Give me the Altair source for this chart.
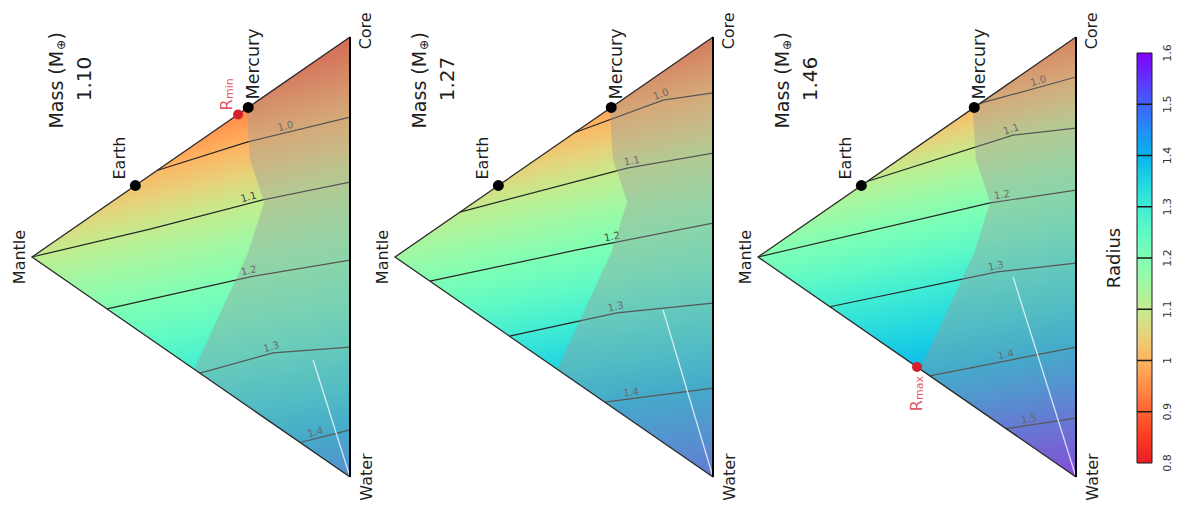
import math
import altair as alt
import numpy as np
import pandas as pd

# ------------------------------------------------------------------ data
MASSES = ["1.10", "1.27", "1.46"]

# compositions as (mantle fraction, water fraction); core = 1 - mantle - water
EARTH = (0.675, 0.0)
MERCURY = (0.32, 0.0)
RMIN = (0.352, 0.0)     # first panel
RMAX = (0.50, 0.50)     # third panel

# radius contours: level and (mantle, water) points along each line
P1_LEVELS = [1.0, 1.1, 1.2, 1.3, 1.4]
P1_LINES = [
    [(0.607, 0.0), (0.324, 0.077), (0.0, 0.182)],
    [(1.0, 0.0), (0.629, 0.122), (0.274, 0.233), (0.0, 0.330)],
    [(0.764, 0.236), (0.314, 0.388), (0.0, 0.507)],
    [(0.472, 0.528), (0.242, 0.597), (0.0, 0.705)],
    [(0.157, 0.843), (0.0, 0.893)],
]
P1_LABEL_MANTLE = [0.198, 0.314, 0.314, 0.242, 0.104]

P2_LEVELS = [1.0, 1.1, 1.2, 1.3, 1.4]
P2_LINES = [
    [(0.434, 0.0), (0.157, 0.065), (0.0, 0.127)],
    [(0.796, 0.0), (0.270, 0.163), (0.0, 0.264)],
    [(0.890, 0.110), (0.428, 0.270), (0.0, 0.423)],
    [(0.640, 0.360), (0.302, 0.476), (0.0, 0.605)],
    [(0.340, 0.660), (0.0, 0.798)],
]
P2_LABEL_MANTLE = [0.157, 0.252, 0.314, 0.302, 0.255]

P3_LEVELS = [1.0, 1.1, 1.2, 1.3, 1.4, 1.5]
P3_LINES = [
    [(0.302, 0.0), (0.0, 0.091)],
    [(0.657, 0.0), (0.198, 0.124), (0.0, 0.207)],
    [(1.0, 0.0), (0.270, 0.242), (0.0, 0.348)],
    [(0.774, 0.226), (0.248, 0.410), (0.0, 0.514)],
    [(0.460, 0.540), (0.0, 0.705)],
    [(0.220, 0.780), (0.0, 0.866)],
]
P3_LABEL_MANTLE = [0.113, 0.198, 0.230, 0.248, 0.217, 0.145]

# radius at the core, mantle and water corners
CORNER_RADIUS = [[0.87, 1.10, 1.46], [0.90, 1.15, 1.50], [0.92, 1.20, 1.58]]

# edge of the shaded region (same compositions in every panel)
SHADE_EDGE = [(0.325, 0.0), (0.315, 0.12), (0.27, 0.24), (0.32, 0.33), (0.49, 0.51)]

# light line that runs into the water corner
WHITE_START = [(0.116, 0.676), (0.157, 0.542), (0.198, 0.446)]

CBAR_VALUES = [0.8, 0.9, 1.0, 1.1, 1.2, 1.3, 1.4, 1.5, 1.6]
CBAR_LABELS = ["0.8", "0.9", "1", "1.1", "1.2", "1.3", "1.4", "1.5", "1.6"]

CMAP_R = [0.80, 0.85, 0.90, 0.95, 1.00, 1.05, 1.10, 1.15, 1.20,
          1.25, 1.30, 1.35, 1.40, 1.45, 1.50, 1.55, 1.60]
CMAP_HEX = ["#e81e25", "#fc3a20", "#ff6232", "#ff8e4a", "#ffb462", "#e6d27a",
            "#c3ec8e", "#a0f8a4", "#80ffb4", "#60fac5", "#40ecd4", "#20d4e1",
            "#08b4ec", "#228ef4", "#4062fa", "#6032fe", "#8000ff"]

PANELS = [
    (P1_LEVELS, P1_LINES, P1_LABEL_MANTLE),
    (P2_LEVELS, P2_LINES, P2_LABEL_MANTLE),
    (P3_LEVELS, P3_LINES, P3_LABEL_MANTLE),
]

# ------------------------------------------------------------------ layout
W, H = 1166, 497
PXX, PXY = 318.0, 440.0
GAP = 363.0 / PXX
X_DOM = [-24 / PXX, -24 / PXX + W / PXX]
Y_DOM = [-29 / PXY, -29 / PXY + H / PXY]
XS = alt.Scale(domain=X_DOM, nice=False, zero=False)
YS = alt.Scale(domain=Y_DOM, nice=False, zero=False, reverse=True)
FONT = "DejaVu Sans"
INK = "#1e1e1e"


def xq(f):
    return alt.X(f, type="quantitative", scale=XS, axis=None)


def yq(f):
    return alt.Y(f, type="quantitative", scale=YS, axis=None)


def tern(m, w):
    """(mantle, water) -> plane position: x from mantle corner to core-water edge."""
    return 1.0 - m, w + 0.5 * m


def hex2rgb(h):
    return [int(h[i:i + 2], 16) for i in (1, 3, 5)]


RGB = np.array([hex2rgb(h) for h in CMAP_HEX], dtype=float)


def cmap(r):
    r = min(max(r, CMAP_R[0]), CMAP_R[-1])
    c = [np.interp(r, CMAP_R, RGB[:, i]) for i in range(3)]
    return "#%02x%02x%02x" % tuple(int(round(v)) for v in c)


def start_kind(pts):
    x, y = pts[0]
    if x < 1e-6:
        return "apex"
    if abs(y - (0.5 - 0.5 * x)) < 3e-3:
        return "upper"
    return "lower"


def at(pts, x):
    return float(np.interp(x, [p[0] for p in pts], [p[1] for p in pts]))


def band(A, B):
    xl = 0.0
    sA = sB = 0.0
    if A is not None:
        sA = A[0][0]
        if start_kind(A) == "lower":
            xl = max(xl, sA)
    if B is not None:
        sB = B[0][0]
        if start_kind(B) == "upper":
            xl = max(xl, sB)
    xs = {xl, 1.0}
    for C in (A, B):
        if C is not None:
            xs.update(x for x, _ in C if x >= xl)
    rows = []
    for x in sorted(xs):
        top = at(A, x) if (A is not None and x >= sA - 1e-9) else 0.5 - 0.5 * x
        bot = at(B, x) if (B is not None and x >= sB - 1e-9) else 0.5 + 0.5 * x
        rows.append((x, top, bot))
    return xl, rows


def gradient(rows, fit, ra, rb):
    xs = [r[0] for r in rows]
    ys = [r[1] for r in rows] + [r[2] for r in rows]
    x0, x1, y0, y1 = min(xs), max(xs), min(ys), max(ys)
    M = np.array([[1.0, (x - x0) / (x1 - x0), (y - y0) / (y1 - y0)] for x, y, _ in fit])
    v = np.array([r for _, _, r in fit])
    a, b, c = np.linalg.lstsq(M, v, rcond=None)[0]
    n2 = b * b + c * c

    def pt(r):
        k = (r - a) / n2
        return float(k * b), float(k * c)

    (gx1, gy1), (gx2, gy2) = pt(ra), pt(rb)
    rs = [ra] + [k for k in CMAP_R if min(ra, rb) + 1e-9 < k < max(ra, rb) - 1e-9] + [rb]
    stops = sorted((round((r - ra) / (rb - ra), 4), cmap(r)) for r in rs)
    return {"gradient": "linear", "x1": round(gx1, 4), "y1": round(gy1, 4),
            "x2": round(gx2, 4), "y2": round(gy2, 4),
            "stops": [{"offset": o, "color": col} for o, col in stops]}


layers = []

# ---------------------------------------------------- colour bands in triangles
line_rows, label_rows = [], []
for p, (levels, lines, lab_m) in enumerate(PANELS):
    off = p * GAP
    cs = [sorted(tern(m, w) for m, w in c) for c in lines]
    rc, rm, rw = CORNER_RADIUS[p]
    n = len(cs)
    for k in range(n + 1):
        A = cs[k - 1] if k > 0 else None
        B = cs[k] if k < n else None
        ra = levels[k - 1] if A is not None else rc
        rb = levels[k] if B is not None else rw
        xl, rows = band(A, B)
        fit = []
        fit += [(x, y, ra) for x, y in A] if A is not None else [(1.0, 0.0, rc)]
        fit += [(x, y, rb) for x, y in B] if B is not None else [(1.0, 1.0, rw)]
        apex_on = any(C is not None and start_kind(C) == "apex" for C in (A, B))
        if xl < 1e-9 and not apex_on:
            fit.append((0.0, 0.5, rm))
        g = gradient(rows, fit, ra, rb)
        df = pd.DataFrame(rows, columns=["X", "Yt", "Yb"])
        df["X"] = df["X"] + off
        layers.append(
            alt.Chart(df).mark_area(color=g, opacity=1, strokeWidth=0)
            .encode(x=xq("X"), y=yq("Yt"), y2="Yb")
        )
    for lev, C, lm in zip(levels, cs, lab_m):
        for i, (x, y) in enumerate(C):
            line_rows.append({"key": f"{p}-{lev}", "i": i, "X": x + off, "Y": y})
        lx = 1.0 - lm
        ly = at(C, lx)
        j = max(0, min(len(C) - 2, int(np.searchsorted([q[0] for q in C], lx)) - 1))
        dx = (C[j + 1][0] - C[j][0]) * PXX
        dy = (C[j + 1][1] - C[j][1]) * PXY
        ang = math.degrees(math.atan2(dy, dx)) % 360
        label_rows.append({"X": lx + off, "Y": ly, "t": f"{lev:.1f}", "ang": ang})

layers.append(
    alt.Chart(pd.DataFrame(line_rows)).mark_line(color="#262626", strokeWidth=1.2)
    .encode(x=xq("X"), y=yq("Y"), detail="key:N", order="i:Q")
)
layers.append(
    alt.Chart(pd.DataFrame(label_rows)).mark_text(
        font=FONT, fontSize=10, color="#444444", baseline="bottom", align="center", dy=-1)
    .encode(x=xq("X"), y=yq("Y"), text="t:N", angle=alt.Angle("ang:Q", scale=None))
)

# ---------------------------------------------------- grey shaded region
shade = []
for p in range(3):
    off = p * GAP
    pts = [(1.0, 0.0)] + [tern(m, w) for m, w in SHADE_EDGE] + [(1.0, 1.0)]
    for i, (x, y) in enumerate(pts):
        shade.append({"panel": p, "Y": y, "XL": x + off, "XR": 1.0 + off})
layers.append(
    alt.Chart(pd.DataFrame(shade)).mark_area(orient="horizontal", color="#9a9a9a",
                                             opacity=0.42, strokeWidth=0)
    .encode(y=yq("Y"), x=xq("XL"), x2="XR", detail="panel:N")
)

# ---------------------------------------------------- light line to water corner
wl = []
for p, (m, w) in enumerate(WHITE_START):
    x, y = tern(m, w)
    wl += [{"panel": p, "i": 0, "X": x + p * GAP, "Y": y},
           {"panel": p, "i": 1, "X": 1.0 + p * GAP, "Y": 1.0}]
layers.append(
    alt.Chart(pd.DataFrame(wl)).mark_line(color="#ffffff", strokeWidth=1.3, opacity=0.75)
    .encode(x=xq("X"), y=yq("Y"), detail="panel:N", order="i:Q")
)

# ---------------------------------------------------- triangle frame
frame, right = [], []
for p in range(3):
    off = p * GAP
    for i, (m, w) in enumerate([(0.0, 0.0), (1.0, 0.0), (0.0, 1.0)]):
        x, y = tern(m, w)
        frame.append({"panel": p, "i": i, "X": x + off, "Y": y})
    right += [{"panel": p, "Y": 0.0, "X": 1.0 + off, "Y2": 1.0}]
layers.append(
    alt.Chart(pd.DataFrame(frame)).mark_line(color="#2a2a2a", strokeWidth=1.3)
    .encode(x=xq("X"), y=yq("Y"), detail="panel:N", order="i:Q")
)
layers.append(
    alt.Chart(pd.DataFrame(right)).mark_rule(color="#000000", strokeWidth=2)
    .encode(x=xq("X"), y=yq("Y"), y2="Y2")
)

# ---------------------------------------------------- planets and extrema
planets = []
for p in range(3):
    for name, (m, w) in (("Earth", EARTH), ("Mercury", MERCURY)):
        x, y = tern(m, w)
        planets.append({"name": name, "X": x + p * GAP, "Y": y})
pdf = pd.DataFrame(planets)
layers.append(
    alt.Chart(pdf).mark_point(filled=True, color="#000000", size=120, opacity=1)
    .encode(x=xq("X"), y=yq("Y"))
)
for name, dx, dy, fs in (("Earth", 6, -15, 16), ("Mercury", 8, 6, 17.5)):
    layers.append(
        alt.Chart(pdf[pdf["name"] == name]).mark_text(
            font=FONT, fontSize=fs, color=INK, angle=270, align="left",
            baseline="middle", dx=dx, dy=dy)
        .encode(x=xq("X"), y=yq("Y"), text="name:N")
    )

ext = []
x, y = tern(*RMIN)
ext.append({"kind": "min", "X": x, "Y": y})
x, y = tern(*RMAX)
ext.append({"kind": "max", "X": x + 2 * GAP, "Y": y})
edf = pd.DataFrame(ext)
layers.append(
    alt.Chart(edf).mark_point(filled=True, color="#d4202c", size=100, opacity=1)
    .encode(x=xq("X"), y=yq("Y"))
)
RED = "#e25866"
mn = edf[edf["kind"] == "min"]
mx = edf[edf["kind"] == "max"]
layers += [
    alt.Chart(mn).mark_text(text="R", font=FONT, fontSize=16, color=RED, angle=270,
                            align="left", baseline="middle", dx=4, dy=-11)
    .encode(x=xq("X"), y=yq("Y")),
    alt.Chart(mn).mark_text(text="min", font=FONT, fontSize=11, color=RED, angle=270,
                            align="left", baseline="middle", dx=15.5, dy=-8)
    .encode(x=xq("X"), y=yq("Y")),
    alt.Chart(mx).mark_text(text="max", font=FONT, fontSize=11, color=RED, angle=270,
                            align="right", baseline="middle", dx=-9, dy=3)
    .encode(x=xq("X"), y=yq("Y")),
    alt.Chart(mx).mark_text(text="R", font=FONT, fontSize=16, color=RED, angle=270,
                            align="right", baseline="middle", dx=-33, dy=0)
    .encode(x=xq("X"), y=yq("Y")),
]

# ---------------------------------------------------- corner labels and titles
corner = []
for p in range(3):
    off = p * GAP
    corner += [{"t": "Mantle", "X": -0.038 + off, "Y": 0.5},
               {"t": "Core", "X": 1.050 + off, "Y": -0.014},
               {"t": "Water", "X": 1.053 + off, "Y": 1.0}]
layers.append(
    alt.Chart(pd.DataFrame(corner)).mark_text(
        font=FONT, fontSize=16, color=INK, angle=270, align="center", baseline="middle")
    .encode(x=xq("X"), y=yq("Y"), text="t:N")
)

title = pd.DataFrame({"X": [0.079 + p * GAP for p in range(3)], "Y": [0.208] * 3})
layers += [
    alt.Chart(title).mark_text(text="Mass (M", font=FONT, fontSize=19, color=INK, angle=270,
                               align="left", baseline="middle")
    .encode(x=xq("X"), y=yq("Y")),
    alt.Chart(title).mark_text(text="\u2295", font=FONT, fontSize=12, color=INK, angle=270,
                               align="left", baseline="middle", dx=78.5, dy=4)
    .encode(x=xq("X"), y=yq("Y")),
    alt.Chart(title).mark_text(text=")", font=FONT, fontSize=19, color=INK, angle=270,
                               align="left", baseline="middle", dx=89)
    .encode(x=xq("X"), y=yq("Y")),
]
mass = pd.DataFrame({"X": [0.168 + p * GAP for p in range(3)], "Y": [0.0955] * 3,
                     "t": MASSES})
layers.append(
    alt.Chart(mass).mark_text(font=FONT, fontSize=20, color=INK, angle=270,
                              align="center", baseline="middle")
    .encode(x=xq("X"), y=yq("Y"), text="t:N")
)

# ---------------------------------------------------- colour bar
CB_X = [(1137 - 32) / PXX, (1152 - 32) / PXX]


def cb_y(r):
    return (16 + (1.6 - r) * 512.5) / PXY


cb_grad = {"gradient": "linear", "x1": 0, "y1": 0, "x2": 0, "y2": 1,
           "stops": [{"offset": round((1.6 - r) / 0.8, 4), "color": h}
                     for r, h in sorted(zip(CMAP_R, CMAP_HEX), reverse=True)]}
cbar = pd.DataFrame({"x0": [CB_X[0]], "x1": [CB_X[1]],
                     "y0": [cb_y(1.6)], "y1": [cb_y(0.8)]})
layers.append(
    alt.Chart(cbar).mark_rect(color=cb_grad, stroke="#1a1a1a", strokeWidth=1)
    .encode(x=xq("x0"), x2="x1", y=yq("y0"), y2="y1")
)
ticks = pd.DataFrame({"x0": CB_X[0], "x1": CB_X[1],
                      "y": [cb_y(v) for v in CBAR_VALUES[1:-1]]})
layers.append(
    alt.Chart(ticks).mark_rule(color="#1a1a1a", strokeWidth=1.5)
    .encode(x=xq("x0"), x2="x1", y=yq("y"))
)
cbl = pd.DataFrame({"X": (1167.5 - 32) / PXX, "Y": [cb_y(v) for v in CBAR_VALUES],
                    "t": CBAR_LABELS})
layers.append(
    alt.Chart(cbl).mark_text(font=FONT, fontSize=11, color="#333333", angle=270,
                             align="center", baseline="middle")
    .encode(x=xq("X"), y=yq("Y"), text="t:N")
)
layers.append(
    alt.Chart(pd.DataFrame({"X": [(1115 - 32) / PXX], "Y": [cb_y(1.2)]}))
    .mark_text(text="Radius", font=FONT, fontSize=18, color=INK, angle=270,
               align="center", baseline="middle")
    .encode(x=xq("X"), y=yq("Y"))
)

chart = (
    alt.layer(*layers)
    .properties(width=W, height=H, autosize=alt.AutoSizeParams(type="none"), padding=0,
                background="#ffffff")
    .configure_view(stroke=None)
)

chart.save("out.html", embed_options={"renderer": "svg", "actions": False})
